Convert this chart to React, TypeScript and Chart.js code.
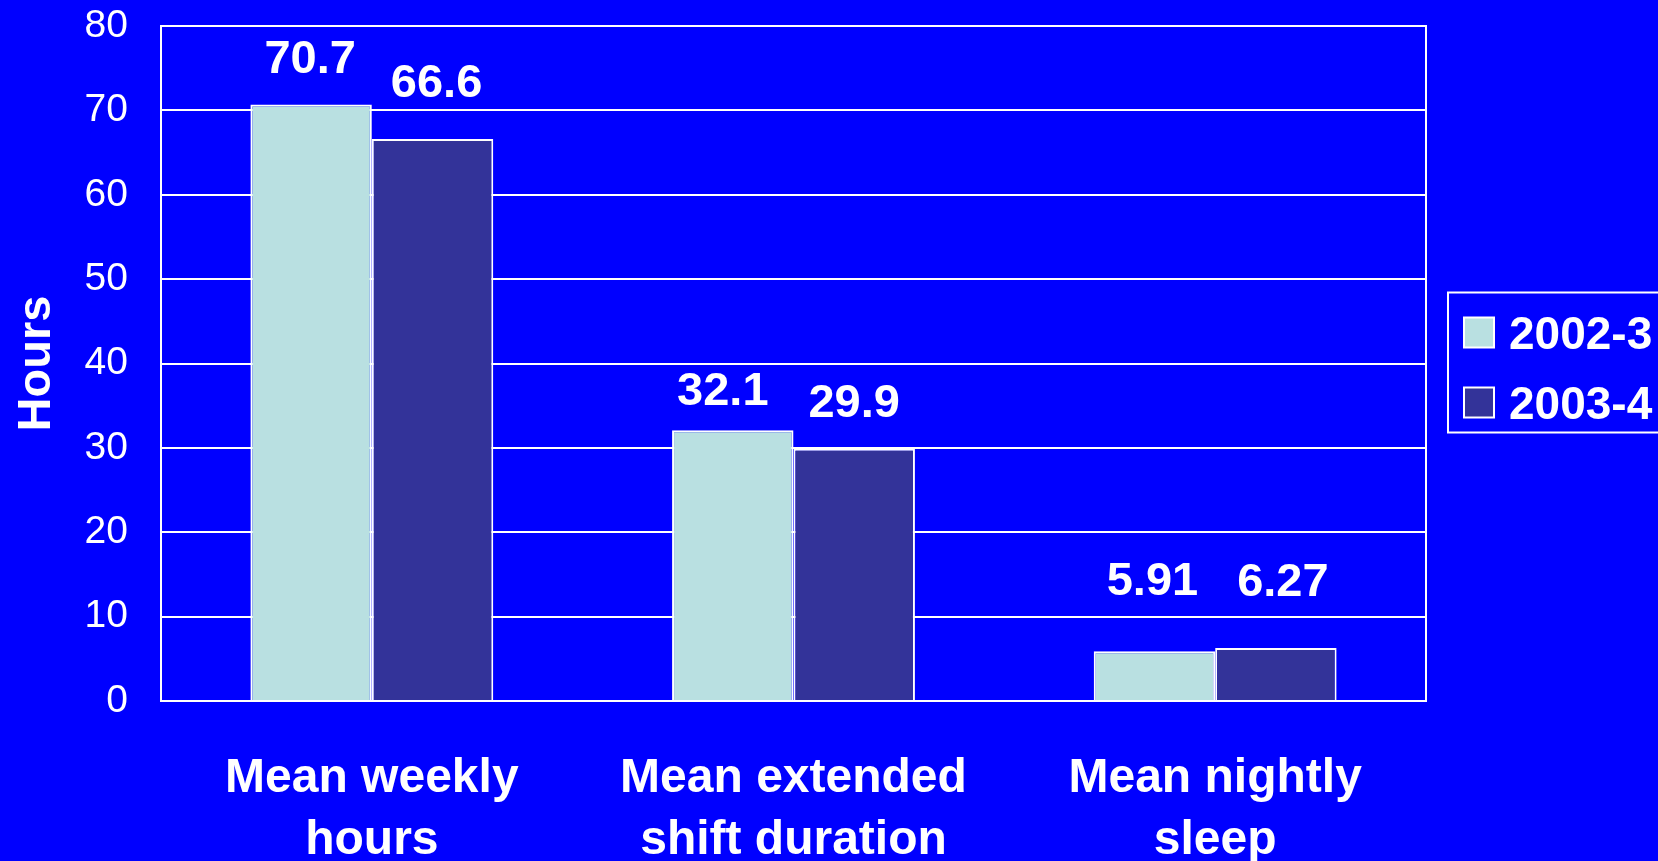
import { useEffect, useRef } from 'react';
import { Chart, registerables } from 'chart.js';

Chart.register(...registerables);

// ---- data ----
const categories: string[][] = [
  ['Mean weekly', 'hours'],
  ['Mean extended', 'shift duration'],
  ['Mean nightly', 'sleep'],
];
const seriesNames = ['2002-3', '2003-4'];
const values2002 = [70.7, 32.1, 5.91];
const values2003 = [66.6, 29.9, 6.27];
const yMin = 0;
const yMax = 80;
const yStep = 10;
const yTitle = 'Hours';

// ---- style ----
const BG = '#0000FF';
const WHITE = '#FFFFFF';
const COLORS = ['#B9E0E1', '#333399'];
const FONT = "'Liberation Sans', Arial, Helvetica, sans-serif";
// label placement tweaks [dataset][category]: [dx, gap above bar top]
const labelTweaks: number[][][] = [
  [[-1, 31], [-10, 25], [-2, 56]],
  [[4, 42], [0, 32], [7, 52]],
];

const bgPlugin = {
  id: 'bg',
  beforeDraw(chart: any) {
    const ctx = chart.ctx;
    ctx.save();
    ctx.fillStyle = BG;
    ctx.fillRect(0, 0, chart.width, chart.height);
    ctx.restore();
  },
};

const framePlugin = {
  id: 'frame',
  beforeDatasetsDraw(chart: any) {
    const { ctx, chartArea: a } = chart;
    ctx.save();
    ctx.strokeStyle = WHITE;
    ctx.lineWidth = 2;
    ctx.strokeRect(a.left, a.top, a.right - a.left, a.bottom - a.top);
    ctx.restore();
  },
};

const valueLabelPlugin = {
  id: 'valueLabels',
  afterDatasetsDraw(chart: any) {
    const ctx = chart.ctx;
    ctx.save();
    ctx.fillStyle = WHITE;
    ctx.font = `bold 47px ${FONT}`;
    ctx.textAlign = 'center';
    ctx.textBaseline = 'alphabetic';
    chart.data.datasets.forEach((ds: any, di: number) => {
      const meta = chart.getDatasetMeta(di);
      meta.data.forEach((bar: any, i: number) => {
        const t = labelTweaks[di][i];
        ctx.fillText(String(ds.data[i]), bar.x + t[0], bar.y - t[1]);
      });
    });
    ctx.restore();
  },
};

const legendPlugin = {
  id: 'boxLegend',
  afterDraw(chart: any) {
    const { ctx, chartArea: a } = chart;
    const left = a.right + 22;
    const mid = (a.top + a.bottom) / 2;
    const top = mid - 71;
    const h = 140;
    ctx.save();
    ctx.strokeStyle = WHITE;
    ctx.lineWidth = 2;
    ctx.strokeRect(left, top, chart.width - left + 10, h);
    ctx.font = `bold 46px ${FONT}`;
    ctx.textAlign = 'left';
    ctx.textBaseline = 'alphabetic';
    chart.data.datasets.forEach((ds: any, i: number) => {
      const cy = mid - 31 + i * 70;
      const sq = 30;
      ctx.fillStyle = ds.backgroundColor;
      ctx.fillRect(left + 16, cy - sq / 2, sq, sq);
      ctx.strokeStyle = WHITE;
      ctx.lineWidth = 2;
      ctx.strokeRect(left + 16, cy - sq / 2, sq, sq);
      ctx.fillStyle = WHITE;
      ctx.fillText(ds.label, left + 61, cy + 16.5);
    });
    ctx.restore();
  },
};

export default function App() {
  const ref = useRef<HTMLCanvasElement | null>(null);

  useEffect(() => {
    document.body.style.margin = '0';
    document.body.style.background = BG;
    if (!ref.current) return;
    const chart = new Chart(ref.current, {
      type: 'bar',
      data: {
        labels: categories,
        datasets: [
          {
            label: seriesNames[0],
            data: values2002,
            backgroundColor: COLORS[0],
            borderColor: WHITE,
            borderWidth: 2,
          },
          {
            label: seriesNames[1],
            data: values2003,
            backgroundColor: COLORS[1],
            borderColor: WHITE,
            borderWidth: 2,
          },
        ],
      },
      options: {
        responsive: false,
        animation: false,
        devicePixelRatio: 1,
        layout: { padding: { top: 0, right: 232, left: 0, bottom: 0 } },
        datasets: {
          bar: { categoryPercentage: 0.576, barPercentage: 1 },
        },
        plugins: {
          legend: { display: false },
          tooltip: { enabled: false },
        },
        scales: {
          x: {
            grid: { display: false, drawTicks: false },
            border: { display: true, color: WHITE, width: 2 },
            ticks: {
              color: WHITE,
              font: { family: FONT, size: 48, weight: 'bold', lineHeight: 62 / 48 },
              padding: 47,
              maxRotation: 0,
              autoSkip: false,
            },
            afterFit: (s: any) => {
              s.height = 160;
            },
          },
          y: {
            min: yMin,
            max: yMax,
            grid: { color: WHITE, lineWidth: 2, drawTicks: false },
            border: { display: true, color: WHITE, width: 2 },
            ticks: {
              stepSize: yStep,
              color: WHITE,
              font: { family: FONT, size: 39 },
              padding: 33,
            },
            title: {
              display: true,
              text: yTitle,
              color: WHITE,
              font: { family: FONT, size: 47, weight: 'bold', lineHeight: 1 },
              padding: { top: 14, bottom: 0 },
            },
            afterFit: (s: any) => {
              s.width = 161;
              s.paddingTop = 26;
              s.paddingBottom = 0;
            },
          },
        },
      },
      plugins: [bgPlugin, framePlugin, valueLabelPlugin, legendPlugin],
    });
    return () => chart.destroy();
  }, []);

  return (
    <div style={{ width: 1658, height: 861, overflow: 'hidden' }}>
      <canvas ref={ref} width={1658} height={861} style={{ display: 'block' }} />
    </div>
  );
}
